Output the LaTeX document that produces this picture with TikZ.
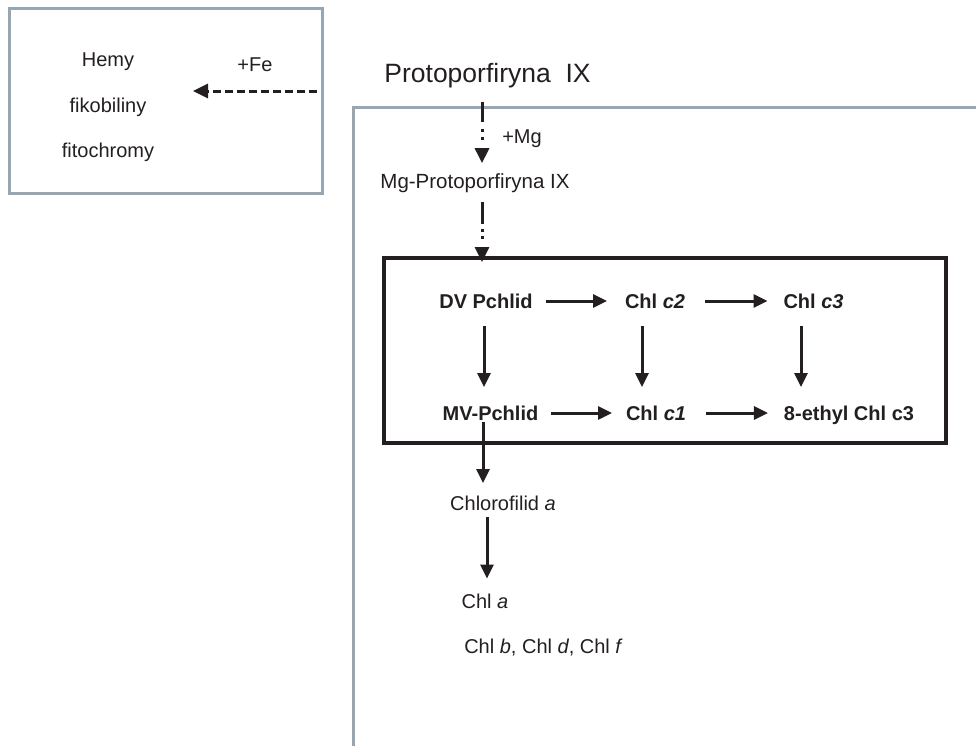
\documentclass[tikz,border=0pt]{standalone}
\usepackage{fontspec}
\setmainfont{Liberation Sans}
\usetikzlibrary{arrows.meta,calc}
\definecolor{txt}{RGB}{35,31,32}
\definecolor{framegray}{RGB}{150,166,178}
\begin{document}
\begin{tikzpicture}[x=1pt,y=-1pt,
  lbl/.style={anchor=base, inner sep=0pt, outer sep=0pt, text=txt, font=\fontsize{20}{24}\selectfont},
  blbl/.style={lbl, text height=14pt, text depth=0pt, font=\fontsize{20}{24}\selectfont\bfseries},
  arr/.style={draw=txt, line width=3pt, -{Triangle[length=14pt,width=13pt]}},
  darr/.style={draw=txt, line width=3pt, -{Triangle[length=15pt,width=14pt]}},
  graybox/.style={draw=framegray, line width=3pt, inner sep=0pt, outer sep=0pt},
  blackbox/.style={draw=txt, line width=4pt, inner sep=0pt, outer sep=0pt},
  ]
\useasboundingbox (0,0) rectangle (976,745);

% left box
\node[graybox, minimum width=313pt, minimum height=185pt] (lbox) at (165.5,100.5) {};
\node[lbl] (hemy) at (108,66) {Hemy};
\node[lbl] (fiko) at (108,112) {fikobiliny};
\node[lbl] (fito) at (108,157) {fitochromy};
\node[lbl] (fe) at (255,71) {+Fe};
\coordinate (festart) at (317,91);
\coordinate (feend) at (193,91);
\draw[darr, dash pattern=on 8pt off 4pt] (festart) -- (feend);

% big open frame
\coordinate (frtr) at (980,107);
\coordinate (frtl) at (353,107);
\coordinate (frbl) at (353,750);
\draw[draw=framegray, line width=3pt] (frtr) -- (frtl) -- (frbl);

% top texts
\node[lbl, font=\fontsize{26.5}{30}\selectfont] (proto) at (487.5,82) {Protoporfiryna\ \ IX};
\node[lbl] (mg) at (522,143) {+Mg};
\node[lbl, font=\fontsize{20.5}{24}\selectfont] (mgp) at (475,188) {Mg-Protoporfiryna IX};

% black box
\node[blackbox, minimum width=562pt, minimum height=185pt] (bbox) at (665,350.5) {};

\coordinate (axis) at (482,0);
\draw[darr, dash pattern=on 20pt off 7pt on 3pt off 5pt on 3pt off 40pt, shorten <=14pt, shorten >=10pt]
  (proto.south -| axis) -- (mgp.north -| axis);
\draw[darr, dash pattern=on 22pt off 5pt on 3pt off 4pt on 3pt off 40pt, shorten <=10pt, shorten >=-4pt]
  (mgp.south -| axis) -- (bbox.north -| axis);

% inner nodes
\node[blbl] (dv) at (486,308) {DV Pchlid};
\node[blbl] (c2) at (655,308) {Chl \textit{c2}};
\node[blbl] (c3) at (813.5,308) {Chl \textit{c3}};
\node[blbl] (mv) at (490.5,420) {MV-Pchlid};
\node[blbl] (c1) at (656,420) {Chl \textit{c1}};
\node[blbl] (ec3) at (849,420) {8-ethyl Chl c3};

\draw[arr, shorten <=13pt, shorten >=18pt] (dv.east) -- (c2.west);
\draw[arr, shorten <=20pt, shorten >=16pt] (c2.east) -- (c3.west);
\draw[arr, shorten <=13pt, shorten >=14pt] (mv.east) -- (c1.west);
\draw[arr, shorten <=20pt, shorten >=16pt] (c1.east) -- (ec3.west);

\draw[arr, shorten <=18pt, shorten >=19pt] ([xshift=-2pt]dv.south) -- ([xshift=-2pt]dv.south |- mv.north);
\draw[arr, shorten <=18pt, shorten >=19pt] ([xshift=-13pt]c2.south) -- ([xshift=-13pt]c2.south |- c1.north);
\draw[arr, shorten <=18pt, shorten >=19pt] ([xshift=-12.5pt]c3.south) -- ([xshift=-12.5pt]c3.south |- ec3.north);

% lower chain
\node[lbl] (chlid) at (503,510) {Chlorofilid \textit{a}};
\node[lbl] (chla) at (485,608) {Chl \textit{a}};
\node[lbl] (chlb) at (543.5,653) {Chl \textit{b}, Chl \textit{d}, Chl \textit{f}};

\draw[arr, shorten <=2pt, shorten >=12.5pt] ([xshift=-7.5pt]mv.south) -- ([xshift=-7.5pt]mv.south |- chlid.north);
\draw[arr, shorten <=7pt, shorten >=15pt] ([xshift=-16pt]chlid.south) -- ([xshift=-16pt]chlid.south |- chla.north);
\end{tikzpicture}
\end{document}
